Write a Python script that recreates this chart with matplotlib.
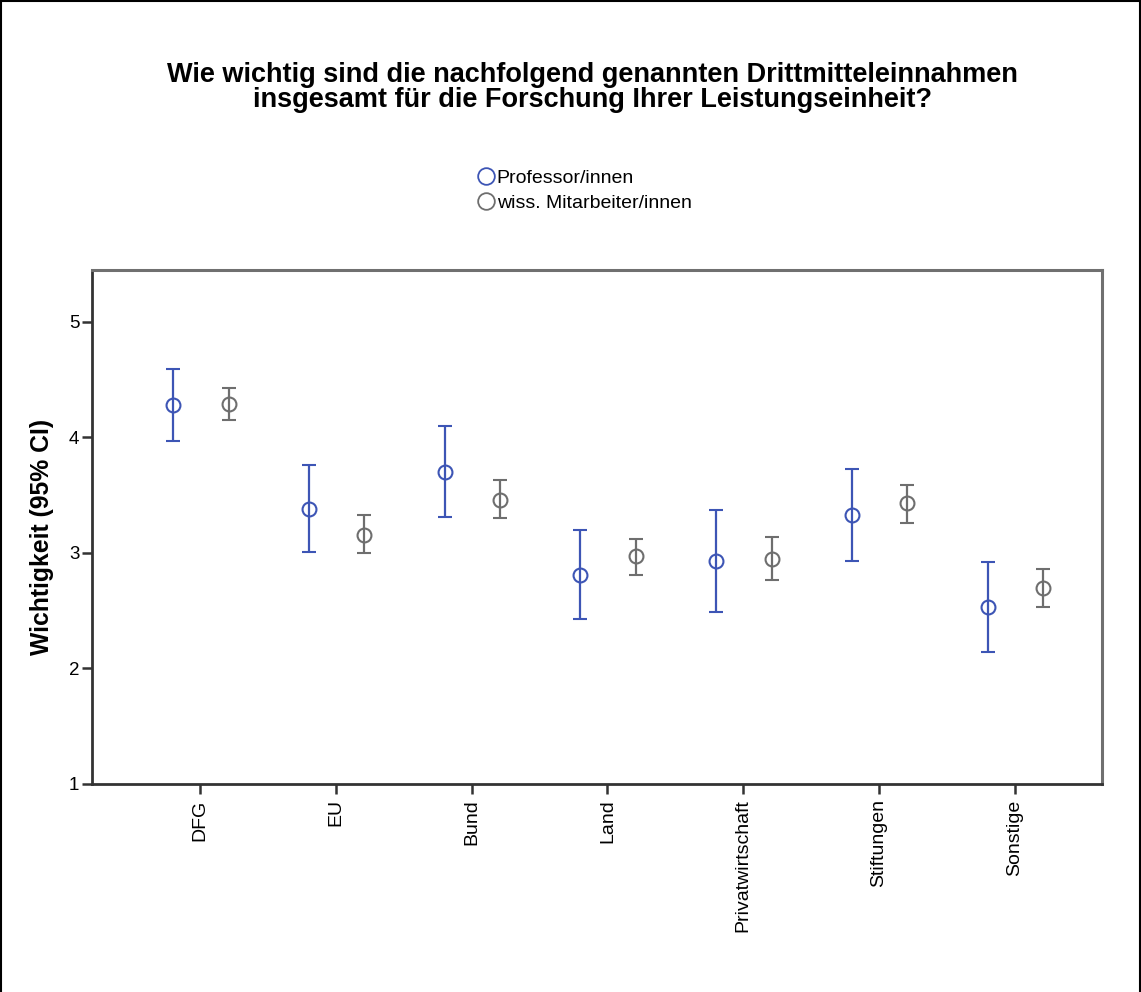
import numpy as np
import matplotlib
matplotlib.use("Agg")
import matplotlib.pyplot as plt
from matplotlib.lines import Line2D

plt.rcParams['font.family'] = ['Liberation Sans', 'DejaVu Sans']

# -------------------------------
# Data
# -------------------------------
categories = ["DFG", "EU", "Bund", "Land", "Privatwirtschaft", "Stiftungen", "Sonstige"]

prof_mean = [4.28, 3.38, 3.70, 2.81, 2.93, 3.33, 2.53]
prof_low = [3.97, 3.01, 3.31, 2.43, 2.49, 2.93, 2.14]
prof_high = [4.59, 3.76, 4.10, 3.20, 3.37, 3.73, 2.92]

wiss_mean = [4.29, 3.16, 3.46, 2.97, 2.95, 3.43, 2.70]
wiss_low = [4.15, 3.00, 3.30, 2.81, 2.77, 3.26, 2.53]
wiss_high = [4.43, 3.33, 3.63, 3.12, 3.14, 3.59, 2.86]

series_labels = ["Professor/innen", "wiss. Mitarbeiter/innen"]
blue = "#3d55b5"
gray = "#6e6e6e"

# -------------------------------
# Figure
# -------------------------------
fig = plt.figure(figsize=(11.41, 9.92), dpi=100)
ax = fig.add_axes([0.0806, 0.2097, 0.8852, 0.5181])

x = np.arange(len(categories))

for mean, low, high, off, col in [
    (prof_mean, prof_low, prof_high, -0.2, blue),
    (wiss_mean, wiss_low, wiss_high, 0.21, gray),
]:
    mean = np.array(mean)
    err = [mean - np.array(low), np.array(high) - mean]
    ax.errorbar(x + off, mean, yerr=err, fmt="o", mfc="none", mec=col,
                mew=1.5, ms=10, ecolor=col, elinewidth=1.6, capsize=5,
                capthick=1.6, color=col)

ax.set_xlim(-0.797, 6.643)
ax.set_ylim(1, 5.45)
ax.set_yticks([1, 2, 3, 4, 5])
ax.set_xticks(x)
ax.set_xticklabels(categories, rotation=90, fontsize=14)
ax.tick_params(axis="y", labelsize=13.5, length=7, width=1.8, color="#333333", pad=2)
ax.tick_params(axis="x", length=7, width=1.8, color="#333333", pad=4)

for side in ["left", "bottom"]:
    ax.spines[side].set_color("#333333")
    ax.spines[side].set_linewidth(2)
for side in ["top", "right"]:
    ax.spines[side].set_color("#707070")
    ax.spines[side].set_linewidth(2.2)

ax.set_ylabel("Wichtigkeit (95% CI)", fontsize=17.8, fontweight="bold")
ax.yaxis.set_label_coords(-0.038, 0.48)

fig.text(0.519, 0.937, "Wie wichtig sind die nachfolgend genannten Drittmitteleinnahmen\n"
         "insgesamt für die Forschung Ihrer Leistungseinheit?",
         ha="center", va="top", fontsize=19.5, fontweight="bold", linespacing=0.95)

handles = [
    Line2D([], [], marker="o", ls="none", mfc="none", mec=blue, mew=1.3, ms=12),
    Line2D([], [], marker="o", ls="none", mfc="none", mec=gray, mew=1.3, ms=12),
]
fig.legend(handles, series_labels, loc="upper left", bbox_to_anchor=(0.419, 0.829),
           frameon=False, fontsize=14, handlelength=0.8, handletextpad=0.15,
           labelspacing=0.35, borderpad=0, borderaxespad=0)

# outer frame of the picture
for xs, ys in [([0.001, 0.001], [0, 0.999]), ([0.001, 0.999], [0.999, 0.999]),
               ([0.999, 0.999], [0, 0.999])]:
    fig.add_artist(Line2D(xs, ys, transform=fig.transFigure, color="black", lw=1.5))

fig.savefig("out.png", dpi=100)
